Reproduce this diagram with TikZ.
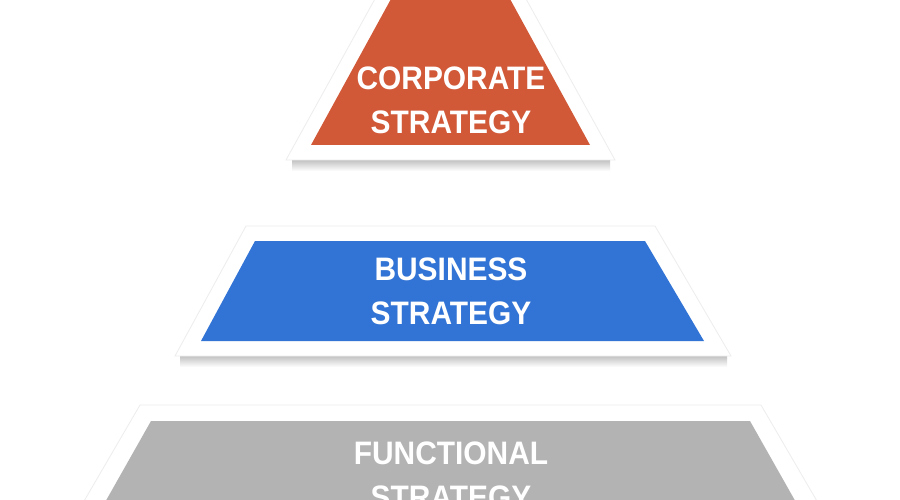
\documentclass[tikz,border=0pt]{standalone}
\usepackage{fontspec}
\setmainfont{Liberation Sans}
\newfontfamily\lblfont{Liberation Sans}[FakeStretch=0.92]
\definecolor{corp}{RGB}{209,89,56}
\definecolor{busi}{RGB}{50,116,214}
\definecolor{func}{RGB}{179,179,179}
\tikzset{
  outerbox/.style={fill=white, draw=black!7, line width=0.8pt},
  shadowband/.style={top color=black!24, bottom color=white, draw=none},
  lvltext/.style={text=white, align=center, anchor=north, inner sep=0pt,
    font=\lblfont\bfseries\fontsize{32.5}{44}\selectfont}
}
\begin{document}
\begin{tikzpicture}[x=1pt,y=-1pt]
\useasboundingbox (0,0) rectangle (900,500);
\clip (0,0) rectangle (900,500);
\fill[white] (0,0) rectangle (900,500);

% ---- corporate level
\shade[shadowband] (292,160) rectangle (610,171);
\filldraw[outerbox] (381,-12) -- (520,-12) -- (615,160) -- (286,160) -- cycle;
\fill[corp] (397,-12) -- (504,-12) -- (590,145) -- (311,145) -- cycle;
\node[lvltext] (corporate) at (451,67) {CORPORATE\\STRATEGY};

% ---- business level
\shade[shadowband] (180,356) rectangle (727,367);
\filldraw[outerbox] (246,226) -- (655,226) -- (731,356) -- (175,356) -- cycle;
\fill[busi] (255,241) -- (645,241) -- (704,341) -- (201,341) -- cycle;
\node[lvltext] (business) at (451,258) {BUSINESS\\STRATEGY};

% ---- functional level
\filldraw[outerbox] (140,405) -- (761,405) -- (828,520) -- (73,520) -- cycle;
\fill[func] (151,421) -- (750,421) -- (806,520) -- (95,520) -- cycle;
\node[lvltext] (functional) at (451,442) {FUNCTIONAL\\STRATEGY};
\end{tikzpicture}
\end{document}
